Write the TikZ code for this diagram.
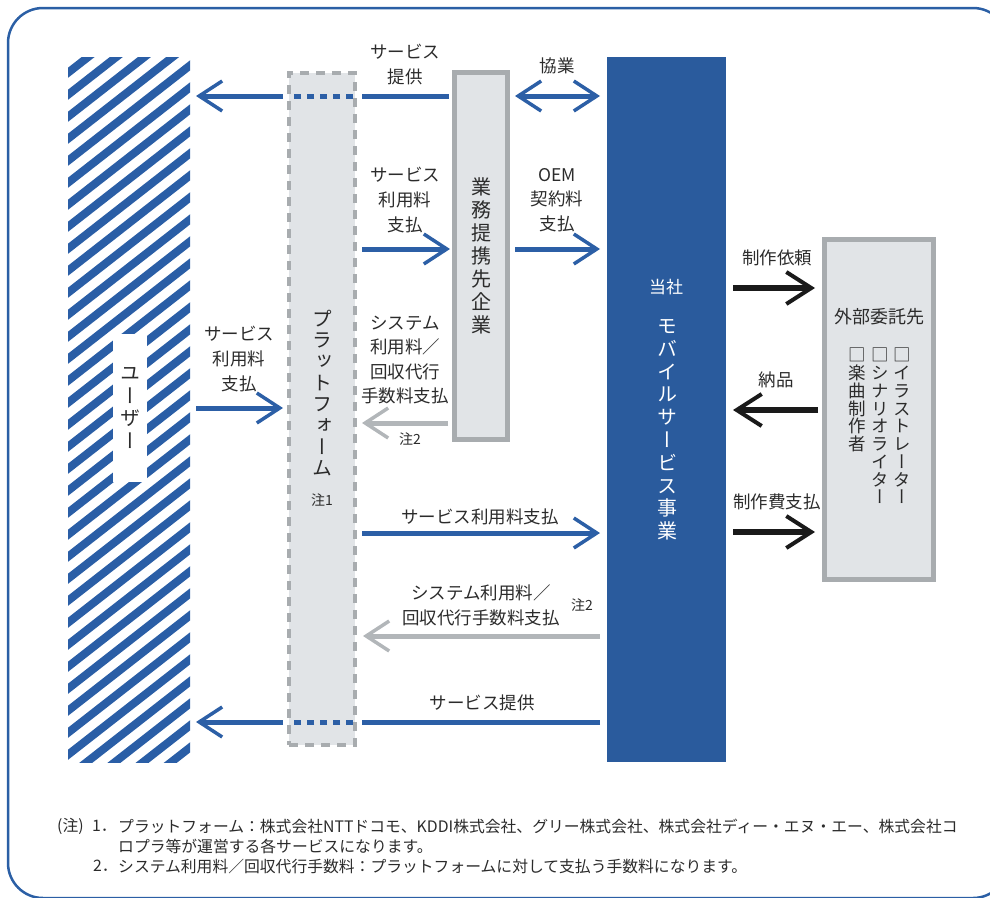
\documentclass[tikz,border=0pt]{standalone}
\usepackage{fontspec}
\setmainfont{Noto Sans CJK JP}
\newfontfamily\vjp[RawFeature=+vert]{Noto Sans CJK JP}
\usetikzlibrary{arrows.meta}
\definecolor{coblue}{HTML}{2A5B9D}
\definecolor{arblue}{HTML}{2C5FA6}
\definecolor{hatchblue}{HTML}{2A5EA6}
\definecolor{frameblue}{HTML}{2B5FA5}
\definecolor{boxgray}{HTML}{A8ACAF}
\definecolor{boxfill}{HTML}{E1E4E7}
\definecolor{argray}{HTML}{B2B6B9}
\definecolor{txt}{HTML}{2B2B2B}
\definecolor{arblack}{HTML}{1A1A1A}
\setlength\lineskiplimit{-30pt}
\tikzset{
  chev/.tip={Straight Barb[length=23pt,width=30pt,line width=3.5pt]},
  bchev/.tip={Straight Barb[length=25pt,width=32pt,line width=4pt]},
  bline/.style={draw=arblue, line width=5pt},
  barrow/.style={draw=arblue, line width=5pt, -chev},
  bdouble/.style={draw=arblue, line width=5pt, chev-chev},
  garrow/.style={draw=argray, line width=5pt, -chev},
  karrow/.style={draw=arblack, line width=6pt, -bchev},
  lbl/.style={font=\fontsize{17.5}{24.6}\selectfont, align=center, text=txt, inner sep=0pt},
  note/.style={font=\fontsize{14}{16}\selectfont, text=txt, inner sep=0pt},
  foot/.style={font=\fontsize{15.8}{20}\selectfont, text=txt, inner sep=0pt, anchor=west},
  graybox/.style={draw=boxgray, line width=5pt, fill=boxfill, inner sep=0pt, outer sep=0pt},
  platbox/.style={draw=boxgray, line width=4pt, dash pattern=on 9pt off 7pt, fill=boxfill, inner sep=0pt, outer sep=0pt},
}
\begin{document}
\begin{tikzpicture}[x=1pt,y=-1pt]
\useasboundingbox (0,0) rectangle (990,897);
% frame
\begin{scope}
\clip (0,0) rectangle (990,897);
\draw[frameblue, line width=2.5pt, rounded corners=35pt] (8,8) rectangle (1008,898);
\end{scope}
% user hatched column
\begin{scope}
\clip (68,57) rectangle (190,762);
\foreach \k in {-2,...,42} \draw[hatchblue, line width=8pt] (60,{57+22*\k}) -- ++(160,-125);
\end{scope}
\node[minimum width=122pt, minimum height=705pt, inner sep=0pt, outer sep=0pt] (user) at (129,409.5) {};
\node[fill=white, minimum width=34pt, minimum height=148pt, inner sep=0pt, text=txt,
      font=\vjp\fontsize{20}{22.7}\selectfont, align=center] (userlbl) at (130,408) {ユ\\ー\\ザ\\ー};
% platform
\node[platbox, minimum width=66pt, minimum height=672pt] (plat) at (322,409) {};
\node[text=txt, inner sep=0pt, align=center, font=\vjp\fontsize{20}{21.3}\selectfont] (plattxt) at (322,393) {プ\\ラ\\ッ\\ト\\フ\\ォ\\ー\\ム};
\node[note] (note1) at (322,500) {注1};
% business partner
\node[graybox, minimum width=53pt, minimum height=367pt, text=txt, align=center,
      font=\vjp\fontsize{20}{23}\selectfont] (biz) at (481,256) {業\\務\\提\\携\\先\\企\\業};
% company
\node[fill=coblue, minimum width=119pt, minimum height=705pt, inner sep=0pt, outer sep=0pt] (co) at (666.5,409.5) {};
\node[text=white, inner sep=0pt, font=\fontsize{17}{20}\selectfont] (cotop) at (666,287) {当社};
\node[text=white, inner sep=0pt, align=center, font=\vjp\fontsize{20}{22.8}\selectfont] (cotxt) at (667,430) {モ\\バ\\イ\\ル\\サ\\ー\\ビ\\ス\\事\\業};
% external
\node[graybox, minimum width=109pt, minimum height=340pt] (ext) at (879,409.5) {};
\node[text=txt, inner sep=0pt, font=\fontsize{18}{20}\selectfont] (exttitle) at (879,317) {外部委託先};
\node[text=txt, inner sep=0pt, align=center, anchor=north, font=\vjp\fontsize{17.5}{17.75}\selectfont] (col1) at (902,348) {□\\イ\\ラ\\ス\\ト\\レ\\ー\\タ\\ー};
\node[text=txt, inner sep=0pt, align=center, anchor=north, font=\vjp\fontsize{17.5}{17.75}\selectfont] (col2) at (880,348) {□\\シ\\ナ\\リ\\オ\\ラ\\イ\\タ\\ー};
\node[text=txt, inner sep=0pt, align=center, anchor=north, font=\vjp\fontsize{17.5}{17.75}\selectfont] (col3) at (857,348) {□\\楽\\曲\\制\\作\\者};

% arrows
% top: service provision
\draw[bline, shorten <=5.5pt, shorten >=7pt] (biz.west |- 0,96) -- (plat.east |- 0,96);
\draw[bline, dash pattern=on 7pt off 6pt, shorten <=2pt, shorten >=3pt] (plat.east |- 0,96) -- (plat.west |- 0,96);
\draw[barrow, shorten <=6pt, shorten >=6pt] (plat.west |- 0,96) -- (user.east |- 0,96);
\node[lbl] (l1) at (405,64.5) {サービス\\提供};
% cooperation
\draw[bdouble, shorten <=7.5pt, shorten >=7pt] (biz.east |- 0,96) -- (co.west |- 0,96);
\node[lbl] (l2) at (557,66) {協業};
% plat -> biz
\draw[barrow, shorten <=7pt, shorten >=4.5pt] (plat.east |- 0,249) -- (biz.west |- 0,249);
\node[lbl] (l3) at (405,200) {サービス\\利用料\\支払};
% biz -> co
\draw[barrow, shorten <=7.5pt, shorten >=7pt] (biz.east |- 0,249) -- (co.west |- 0,249);
\node[lbl] (l4) at (557,200) {OEM\\契約料\\支払};
% user -> plat
\draw[barrow, shorten <=6pt, shorten >=6pt] (user.east |- 0,408) -- (plat.west |- 0,408);
\node[lbl] (l5) at (239,359) {サービス\\利用料\\支払};
% biz -> plat gray
\draw[garrow, shorten <=6.5pt, shorten >=7pt] (biz.west |- 0,423) -- (plat.east |- 0,423);
\node[lbl] (l6) at (405,360) {システム\\利用料／\\回収代行\\手数料支払};
\node[note] (n2a) at (410,439) {注2};
% plat -> co
\draw[barrow, shorten <=7pt, shorten >=7pt] (plat.east |- 0,533) -- (co.west |- 0,533);
\node[lbl] (l7) at (480,517) {サービス利用料支払};
% co -> plat gray
\draw[garrow, shorten <=7pt, shorten >=8pt] (co.west |- 0,636) -- (plat.east |- 0,636);
\node[lbl] (l8) at (481,605.5) {システム利用料／\\回収代行手数料支払};
\node[note] (n2b) at (582,605) {注2};
% bottom: service provision
\draw[bline, shorten <=7pt, shorten >=7pt] (co.west |- 0,722) -- (plat.east |- 0,722);
\draw[bline, dash pattern=on 7pt off 6pt, shorten <=2pt, shorten >=5pt] (plat.east |- 0,722) -- (plat.west |- 0,722);
\draw[barrow, shorten <=6pt, shorten >=6pt] (plat.west |- 0,722) -- (user.east |- 0,722);
\node[lbl] (l9) at (482,703) {サービス提供};
% co <-> ext
\draw[karrow, shorten <=7pt, shorten >=9.5pt] (co.east |- 0,288) -- (ext.west |- 0,288);
\node[lbl] (l10) at (777,258) {制作依頼};
\draw[karrow, shorten <=6.5pt, shorten >=7pt] (ext.west |- 0,410) -- (co.east |- 0,410);
\node[lbl] (l11) at (776,380) {納品};
\draw[karrow, shorten <=7pt, shorten >=9.5pt] (co.east |- 0,532) -- (ext.west |- 0,532);
\node[lbl] (l12) at (777,502) {制作費支払};

% footnotes
\node[foot] (f0) at (57,826) {(注)};
\node[foot] (f1n) at (92,826) {1．};
\node[foot] (f1) at (118,826) {プラットフォーム：株式会社NTTドコモ、KDDI株式会社、グリー株式会社、株式会社ディー・エヌ・エー、株式会社コ};
\node[foot] (f2) at (118,846) {ロプラ等が運営する各サービスになります。};
\node[foot] (f3n) at (93,866) {2．};
\node[foot] (f3) at (118,866) {システム利用料／回収代行手数料：プラットフォームに対して支払う手数料になります。};
\end{tikzpicture}
\end{document}
